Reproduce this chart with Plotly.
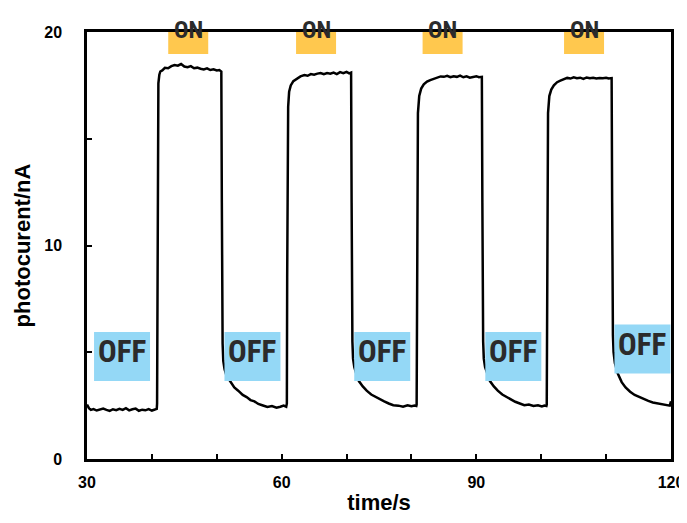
import plotly.graph_objects as go

# ---- data ----
off1_t = [30, 30.3, 30.6, 31, 31.5, 32, 32.5, 33, 33.5, 34, 34.5, 35, 35.5, 36, 36.5, 37, 37.5, 38, 38.5, 39, 39.5, 40, 40.4, 40.75]
off1_i = [2.55, 2.38, 2.3, 2.34, 2.27, 2.32, 2.36, 2.3, 2.25, 2.33, 2.29, 2.35, 2.3, 2.38, 2.28, 2.33, 2.36, 2.26, 2.31, 2.28, 2.34, 2.27, 2.3, 2.35]

on1_t = [40.8, 40.85, 40.9, 41.0, 41.15, 41.3, 41.6, 42, 42.5, 43, 43.5, 44, 44.5, 45, 45.5, 46, 46.5, 47, 47.5, 48, 48.5, 49, 49.5, 50, 50.4, 50.7]
on1_i = [2.6, 9.0, 15.5, 17.6, 18.0, 18.15, 18.2, 18.32, 18.3, 18.4, 18.45, 18.42, 18.5, 18.38, 18.35, 18.4, 18.3, 18.33, 18.28, 18.25, 18.3, 18.22, 18.25, 18.2, 18.22, 18.15]

off2_t = [50.78, 50.83, 50.9, 51.0, 51.2, 51.5, 52.1, 52.7, 53.3, 54.0, 54.6, 55.2, 55.8, 56.4, 57.0, 57.8, 58.5, 59.2, 59.8, 60.3, 60.7]
off2_i = [12.0, 7.0, 5.4, 4.6, 4.2, 3.9, 3.6, 3.35, 3.2, 3.0, 2.9, 2.76, 2.7, 2.58, 2.52, 2.44, 2.48, 2.4, 2.45, 2.5, 2.45]

on2_t = [60.8, 60.85, 60.9, 61.0, 61.15, 61.4, 61.8, 62.3, 62.9, 63.5, 64, 64.5, 65, 65.5, 66, 66.5, 67, 67.5, 68, 68.5, 69, 69.5, 70, 70.4, 70.7]
on2_i = [2.6, 8.5, 14.0, 16.5, 17.2, 17.5, 17.7, 17.82, 17.92, 17.98, 17.95, 18.03, 18.0, 18.05, 18.08, 18.02, 18.08, 18.05, 18.1, 18.03, 18.12, 18.07, 18.13, 18.06, 18.1]

off3_t = [70.78, 70.83, 70.9, 71.0, 71.2, 71.5, 71.9, 72.5, 73.1, 73.8, 74.5, 75.2, 75.8, 76.5, 77.2, 78.0, 78.7, 79.4, 80.0, 80.5, 80.75]
off3_i = [12.0, 7.0, 5.5, 4.7, 4.3, 4.0, 3.65, 3.4, 3.2, 3.02, 2.9, 2.8, 2.7, 2.6, 2.52, 2.5, 2.45, 2.52, 2.47, 2.5, 2.48]

on3_t = [80.8, 80.85, 80.9, 81.0, 81.2, 81.5, 81.9, 82.4, 82.9, 83.5, 84, 84.5, 85, 85.5, 86, 86.5, 87, 87.5, 88, 88.5, 89, 89.5, 90, 90.4, 90.85]
on3_i = [2.55, 8.0, 13.5, 16.2, 17.0, 17.35, 17.55, 17.68, 17.75, 17.82, 17.88, 17.92, 17.9, 17.95, 17.88, 17.93, 17.9, 17.96, 17.88, 17.92, 17.86, 17.9, 17.93, 17.88, 17.9]

off4_t = [90.93, 90.98, 91.05, 91.15, 91.35, 91.7, 92.1, 92.7, 93.3, 94.0, 94.7, 95.4, 96.0, 96.7, 97.4, 98.1, 98.8, 99.5, 100.1, 100.5, 100.8]
off4_i = [12.0, 7.0, 5.5, 4.7, 4.3, 4.0, 3.65, 3.4, 3.2, 3.02, 2.9, 2.78, 2.68, 2.6, 2.52, 2.55, 2.48, 2.52, 2.46, 2.5, 2.48]

on4_t = [100.85, 100.9, 100.95, 101.05, 101.25, 101.55, 101.95, 102.45, 102.95, 103.5, 104, 104.5, 105, 105.5, 106, 106.5, 107, 107.5, 108, 108.5, 109, 109.5, 110, 110.4, 110.85]
on4_i = [2.55, 8.0, 13.5, 16.2, 17.0, 17.3, 17.5, 17.65, 17.72, 17.8, 17.85, 17.82, 17.88, 17.84, 17.86, 17.8, 17.87, 17.83, 17.86, 17.82, 17.85, 17.83, 17.86, 17.82, 17.84]

off5_t = [110.93, 110.98, 111.05, 111.15, 111.35, 111.8, 112.4, 113.0, 113.7, 114.4, 115.1, 115.8, 116.5, 117.2, 118.0, 118.7, 119.3, 119.8, 120]
off5_i = [12.0, 7.5, 5.8, 5.0, 4.5, 4.0, 3.6, 3.35, 3.15, 3.0, 2.9, 2.8, 2.72, 2.65, 2.6, 2.55, 2.52, 2.5, 2.7]

# label positions (time, current) for the ON / OFF markers
on_label_t = [45.6, 65.3, 84.8, 106.6]
on_label_i = [19.93, 19.93, 19.93, 19.93]
off_label_t = [35.4, 55.5, 75.5, 95.7, 115.6]
off_label_i = [4.8, 4.8, 4.8, 4.8, 5.15]

x_tick_vals = [30, 60, 90, 120]
x_tick_text = ["30", "60", "90", "120"]
y_tick_vals = [0, 10, 20]
y_tick_text = ["0", "10", "20"]

# ---- build ----
time_s = off1_t + on1_t + off2_t + on2_t + off3_t + on3_t + off4_t + on4_t + off5_t
current = off1_i + on1_i + off2_i + on2_i + off3_i + on3_i + off4_i + on4_i + off5_i

FONT = "Liberation Sans, Arial, Helvetica, sans-serif"
LABEL_FONT = "Roboto Condensed, Liberation Sans Narrow, sans-serif"
ON_FILL = "#FFC84E"
OFF_FILL = "#94D8F6"
LABEL_TEXT = "#2b2b2b"

fig = go.Figure()
fig.add_trace(go.Scatter(x=time_s, y=current, mode="lines",
                         line=dict(color="black", width=2.5), showlegend=False))


def add_label(t, v, text, fill, w, h, size, lift):
    fig.add_shape(type="rect", xref="x", yref="y", xsizemode="pixel", ysizemode="pixel",
                  xanchor=t, yanchor=v, x0=-w / 2, x1=w / 2, y0=-h / 2, y1=h / 2,
                  fillcolor=fill, line=dict(width=0), layer="above")
    fig.add_annotation(x=t, y=v, xref="x", yref="y", text=f"<b>{text}</b>", showarrow=False,
                       yshift=lift, font=dict(family=LABEL_FONT, size=size, color=LABEL_TEXT))


for t, v in zip(on_label_t, on_label_i):
    add_label(t, v, "ON", ON_FILL, 40, 41, 24, 3)
for t, v in zip(off_label_t, off_label_i):
    add_label(t, v, "OFF", OFF_FILL, 56, 49, 31, 5)

axis_common = dict(showline=True, linecolor="black", linewidth=2.5, mirror=True,
                   showgrid=False, zeroline=False, ticks="inside", ticklen=5,
                   tickwidth=2, tickcolor="black", automargin=False,
                   tickfont=dict(family=FONT, size=16, color="black", weight="bold"))

fig.update_xaxes(range=[30, 120], tickvals=x_tick_vals, ticktext=x_tick_text,
                 minor=dict(dtick=10, tick0=30, ticks="inside", ticklen=5, tickwidth=2, tickcolor="black"),
                 ticklabelstandoff=7,
                 title=dict(text="<b>time/s</b>", font=dict(family=FONT, size=22, color="black"), standoff=15),
                 **axis_common)
fig.update_yaxes(range=[0, 20], tickvals=y_tick_vals, ticktext=y_tick_text,
                 minor=dict(dtick=5, tick0=0, ticks="inside", ticklen=5, tickwidth=2, tickcolor="black"),
                 ticklabelstandoff=19,
                 title=dict(text="<b>photocurent/nA</b>", font=dict(family=FONT, size=22, color="black"), standoff=8),
                 **axis_common)

# the page body adds an 8px offset; size the figure so the plot area lands where the reference has it
fig.update_layout(width=679, height=507, margin=dict(l=79, r=16, t=24, b=56),
                  plot_bgcolor="white", paper_bgcolor="white")

fig.write_html("out.html")
